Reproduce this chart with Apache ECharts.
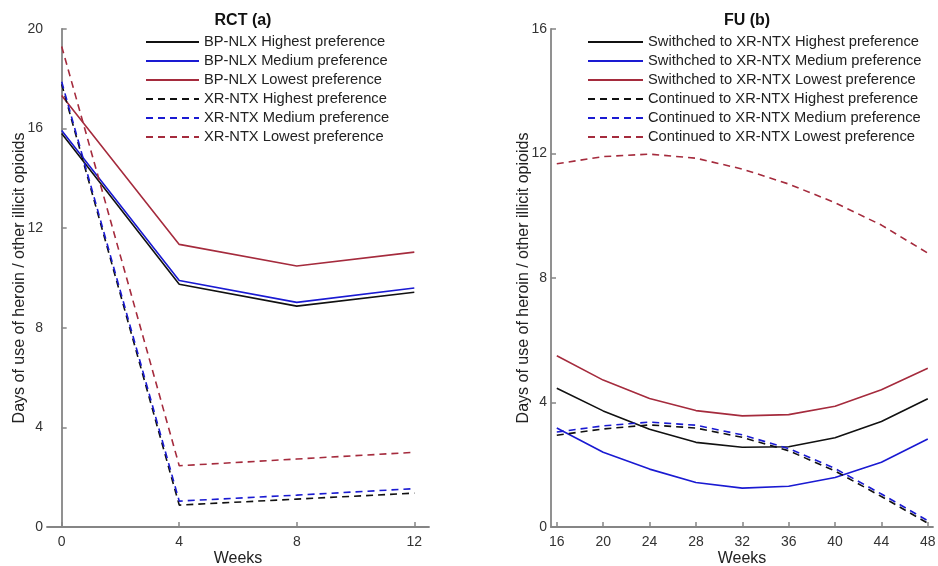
<!DOCTYPE html>
<html>
<head>
<meta charset="utf-8">
<script src="https://cdn.jsdelivr.net/npm/echarts@6/dist/echarts.min.js"></script>
<style>
html,body{margin:0;padding:0;background:#fff;}
#chart{width:938px;height:566px;}
</style>
</head>
<body>
<div id="chart"></div>
<script>
// ---------- data ----------
const rctWeeks = [0, 4, 8, 12];
const rctBpHigh = [15.8, 9.75, 8.87, 9.43];
const rctBpMed  = [15.92, 9.9, 9.02, 9.6];
const rctBpLow  = [17.33, 11.35, 10.48, 11.04];
const rctXrHigh = [17.78, 0.88, 1.12, 1.36];
const rctXrMed  = [17.88, 1.04, 1.28, 1.54];
const rctXrLow  = [19.3, 2.46, 2.73, 3.0];
const rctNames = ['BP-NLX Highest preference','BP-NLX Medium preference','BP-NLX Lowest preference',
                  'XR-NTX Highest preference','XR-NTX Medium preference','XR-NTX Lowest preference'];

const fuWeeks  = [16, 20, 24, 28, 32, 36, 40, 44, 48];
const fuSwHigh = [4.46, 3.73, 3.14, 2.72, 2.56, 2.58, 2.87, 3.39, 4.12];
const fuSwMed  = [3.18, 2.40, 1.86, 1.43, 1.25, 1.31, 1.59, 2.08, 2.83];
const fuSwLow  = [5.50, 4.72, 4.13, 3.74, 3.57, 3.61, 3.88, 4.41, 5.10];
const fuCoHigh = [2.95, 3.15, 3.28, 3.18, 2.88, 2.45, 1.80, 0.98, 0.12];
const fuCoMed  = [3.05, 3.25, 3.37, 3.27, 2.96, 2.52, 1.88, 1.06, 0.20];
const fuCoLow  = [11.67, 11.9, 11.98, 11.85, 11.5, 11.02, 10.42, 9.7, 8.8];
const fuNames = ['Swithched to XR-NTX Highest preference','Swithched to XR-NTX Medium preference','Swithched to XR-NTX Lowest preference',
                 'Continued to XR-NTX Highest preference','Continued to XR-NTX Medium preference','Continued to XR-NTX Lowest preference'];

const rctTicks = [0, 4, 8, 12];
const fuTicks = [16, 20, 24, 28, 32, 36, 40, 44, 48];
const yName = 'Days of use of heroin / other illicit opioids';

// ---------- styles ----------
const BLACK = '#111111', BLUE = '#1a1ad2', RED = '#a52b3d';
const AXIS = '#858585';
const FONT = 'Liberation Sans, Arial, sans-serif';
const DASH = [7, 5];

function pairs(xs, ys){ return xs.map((x,i)=>[x, ys[i]]); }
function line(name, xs, ys, color, dashed, idx){
  return {
    name, type:'line', xAxisIndex:idx, yAxisIndex:idx,
    data: pairs(xs, ys), symbol:'none', smooth:false, animation:false,
    lineStyle:{color, width:1.6, type: dashed ? DASH : 'solid'},
    itemStyle:{color}
  };
}

function xAx(idx, min, max, ticks){
  return {
    type:'value', gridIndex:idx, min, max,
    name:'Weeks', nameLocation:'middle', nameGap:24, nameMoveOverlap:false,
    nameTextStyle:{fontFamily:FONT, fontSize:16, color:'#222'},
    axisLine:{lineStyle:{color:AXIS, width:1.8}},
    axisTick:{inside:true, length:5, customValues:ticks, lineStyle:{color:AXIS, width:1.5}},
    axisLabel:{customValues:ticks, fontFamily:FONT, fontSize:14, color:'#333', margin:8},
    splitLine:{show:false}
  };
}
function yAx(idx, max){
  return {
    type:'value', gridIndex:idx, min:0, max, interval:4,
    name:yName, nameLocation:'middle', nameGap:19.5, nameMoveOverlap:false,
    nameTextStyle:{fontFamily:FONT, fontSize:16, color:'#222'},
    axisLine:{show:true, lineStyle:{color:AXIS, width:1.8}},
    axisTick:{show:true, inside:true, length:5, lineStyle:{color:AXIS, width:1.5}},
    axisLabel:{fontFamily:FONT, fontSize:14, color:'#333', margin:4},
    splitLine:{show:false}
  };
}
function legend(left, names, w){
  return {
    orient:'vertical', left, top:29.6, itemWidth:w, itemHeight:14, itemGap:4.0,
    data: names,
    itemStyle:{opacity:0, borderWidth:0},
    textStyle:{fontFamily:FONT, fontSize:14.7, color:'#222'},
    selectedMode:false
  };
}

const chart = echarts.init(document.getElementById('chart'), null, {renderer:'canvas'});
chart.setOption({
  backgroundColor:'#fff',
  animation:false,
  title:[
    {text:'RCT (a)', left:238, top:8, textAlign:'center', textStyle:{fontFamily:FONT, fontSize:16, fontWeight:'bold', color:'#111'}},
    {text:'FU (b)', left:742, top:8, textAlign:'center', textStyle:{fontFamily:FONT, fontSize:16, fontWeight:'bold', color:'#111'}}
  ],
  legend:[ legend(140, rctNames, 53), legend(582, fuNames, 55) ],
  grid:[
    {left:47, top:29, width:382, height:498, containLabel:false, outerBoundsMode:'none'},
    {left:551, top:29, width:382, height:498, containLabel:false, outerBoundsMode:'none'}
  ],
  xAxis:[ xAx(0, -0.5, 12.5, rctTicks), xAx(1, 15.5, 48.45, fuTicks) ],
  yAxis:[ yAx(0, 20), yAx(1, 16) ],
  series:[
    line(rctNames[0], rctWeeks, rctBpHigh, BLACK, false, 0),
    line(rctNames[1], rctWeeks, rctBpMed, BLUE, false, 0),
    line(rctNames[2], rctWeeks, rctBpLow, RED, false, 0),
    line(rctNames[3], rctWeeks, rctXrHigh, BLACK, true, 0),
    line(rctNames[4], rctWeeks, rctXrMed, BLUE, true, 0),
    line(rctNames[5], rctWeeks, rctXrLow, RED, true, 0),
    line(fuNames[0], fuWeeks, fuSwHigh, BLACK, false, 1),
    line(fuNames[1], fuWeeks, fuSwMed, BLUE, false, 1),
    line(fuNames[2], fuWeeks, fuSwLow, RED, false, 1),
    line(fuNames[3], fuWeeks, fuCoHigh, BLACK, true, 1),
    line(fuNames[4], fuWeeks, fuCoMed, BLUE, true, 1),
    line(fuNames[5], fuWeeks, fuCoLow, RED, true, 1)
  ]
});
</script>
</body>
</html>
